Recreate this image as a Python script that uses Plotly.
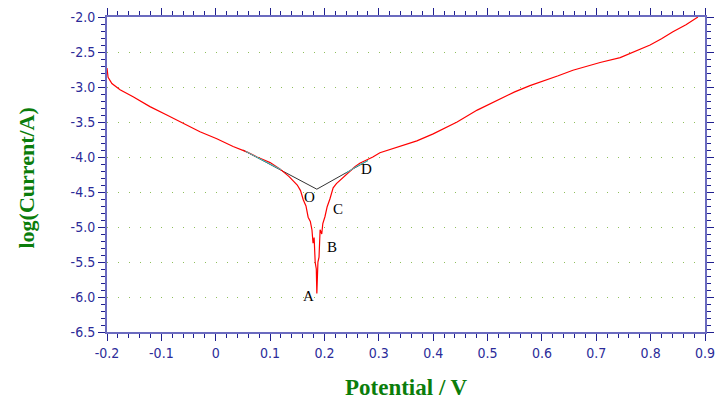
import plotly.graph_objects as go

# polarization curve
potential = [-0.200, -0.198, -0.191, -0.176, -0.152, -0.121, -0.090, -0.060, -0.029, 0.002,
             0.032, 0.058, 0.076, 0.100, 0.118, 0.135, 0.150, 0.156, 0.161, 0.166,
             0.170, 0.174, 0.177, 0.179, 0.181, 0.183, 0.185, 0.186, 0.188, 0.190,
             0.192, 0.195, 0.197, 0.201, 0.205, 0.210, 0.216, 0.222, 0.229, 0.238,
             0.247, 0.256, 0.265, 0.277, 0.289, 0.302, 0.333, 0.370, 0.400, 0.425,
             0.444, 0.481, 0.517, 0.550, 0.578, 0.597, 0.630, 0.657, 0.707, 0.744,
             0.770, 0.799, 0.820, 0.841, 0.865, 0.887]
log_current = [-2.73, -2.86, -2.95, -3.04, -3.14, -3.28, -3.40, -3.52, -3.64, -3.74,
               -3.85, -3.93, -4.00, -4.08, -4.17, -4.28, -4.40, -4.48, -4.61, -4.70,
               -4.86, -4.92, -5.04, -5.23, -5.15, -5.51, -5.60, -5.95, -5.50, -5.43,
               -5.04, -5.10, -4.95, -4.85, -4.71, -4.60, -4.44, -4.38, -4.33, -4.26,
               -4.19, -4.14, -4.09, -4.05, -4.00, -3.94, -3.86, -3.77, -3.67, -3.57,
               -3.50, -3.33, -3.19, -3.07, -2.98, -2.93, -2.84, -2.76, -2.65, -2.58,
               -2.50, -2.40, -2.31, -2.21, -2.11, -2.00]

# Tafel extrapolation lines meeting at O
tafel_x = [0.05, 0.186, 0.28]
tafel_y = [-3.90, -4.46, -4.05]

# fitted segments (cyan)
fit_left_x = [0.055, 0.085, 0.12]
fit_left_y = [-3.92, -4.04, -4.18]
fit_right_x = [0.24, 0.26, 0.28]
fit_right_y = [-4.23, -4.13, -4.05]

# point labels
label_text = ["O", "A", "B", "C", "D"]
label_x = [0.173, 0.170, 0.214, 0.225, 0.278]
label_y = [-4.57, -5.99, -5.29, -4.74, -4.17]

x_ticks = [-0.2, -0.1, 0, 0.1, 0.2, 0.3, 0.4, 0.5, 0.6, 0.7, 0.8, 0.9]
x_tick_text = ["-0.2", "-0.1", "0", "0.1", "0.2", "0.3", "0.4", "0.5", "0.6", "0.7", "0.8", "0.9"]
y_ticks = [-2.0, -2.5, -3.0, -3.5, -4.0, -4.5, -5.0, -5.5, -6.0, -6.5]
y_tick_text = ["-2.0", "-2.5", "-3.0", "-3.5", "-4.0", "-4.5", "-5.0", "-5.5", "-6.0", "-6.5"]

axis_blue = "#6b6bbf"
tick_blue = "#1f1f8f"
label_blue = "#2b2b99"
title_green = "#0b7d0b"
tick_font = dict(family="Liberation Sans Narrow, Arial Narrow, DejaVu Sans Condensed, Liberation Sans",
                 size=14, color=label_blue)
serif = "Liberation Serif, Times New Roman, serif"

fig = go.Figure()

fig.add_trace(go.Scatter(x=tafel_x, y=tafel_y, mode="lines",
                         line=dict(color="#333333", width=1)))
fig.add_trace(go.Scatter(x=potential, y=log_current, mode="lines",
                         line=dict(color="#ff0000", width=1.2)))
fig.add_trace(go.Scatter(x=fit_left_x, y=fit_left_y, mode="lines",
                         line=dict(color="#33cccc", width=1)))
fig.add_trace(go.Scatter(x=fit_right_x, y=fit_right_y, mode="lines",
                         line=dict(color="#33cccc", width=1)))

for t, lx, ly in zip(label_text, label_x, label_y):
    fig.add_annotation(x=lx, y=ly, text=t, showarrow=False,
                       font=dict(family=serif, size=15, color="black"))

# axis titles
fig.add_annotation(xref="paper", yref="paper", x=0.5, y=-0.175, yanchor="middle",
                   text="<b>Potential / V</b>", showarrow=False,
                   font=dict(family=serif, size=23, color=title_green))
fig.add_annotation(xref="paper", yref="paper", x=-0.134, y=0.49, xanchor="center", textangle=-90,
                   text="<b>log(Current/A)</b>", showarrow=False,
                   font=dict(family=serif, size=22, color=title_green))

fig.update_xaxes(range=[-0.2, 0.9], tickvals=x_ticks, ticktext=x_tick_text, automargin=False,
                 showline=True, linecolor=axis_blue, linewidth=2, mirror="allticks",
                 ticks="outside", ticklen=7, tickcolor=tick_blue, tickwidth=1,
                 minor=dict(dtick=0.02, tick0=0, ticks="outside", ticklen=4, tickcolor=tick_blue, showgrid=False),
                 showgrid=False, zeroline=False, tickfont=tick_font)
fig.update_yaxes(range=[-6.5, -2.0], tickvals=y_ticks, ticktext=y_tick_text, automargin=False,
                 showline=True, linecolor=axis_blue, linewidth=2, mirror="allticks",
                 ticks="outside", ticklen=7, tickcolor=tick_blue, tickwidth=1,
                 minor=dict(dtick=0.1, tick0=0, ticks="outside", ticklen=4, tickcolor=tick_blue, showgrid=False),
                 showgrid=True, gridcolor="#8fbf5a", gridwidth=1, griddash="1px,9.87px",
                 zeroline=False, tickfont=tick_font)

# page body adds an 8px margin, so the figure is sized to fit the window
fig.update_layout(width=716, height=400, showlegend=False,
                  margin=dict(l=99, r=19, t=9, b=76),
                  paper_bgcolor="white", plot_bgcolor="white")

fig.write_html("out.html")
